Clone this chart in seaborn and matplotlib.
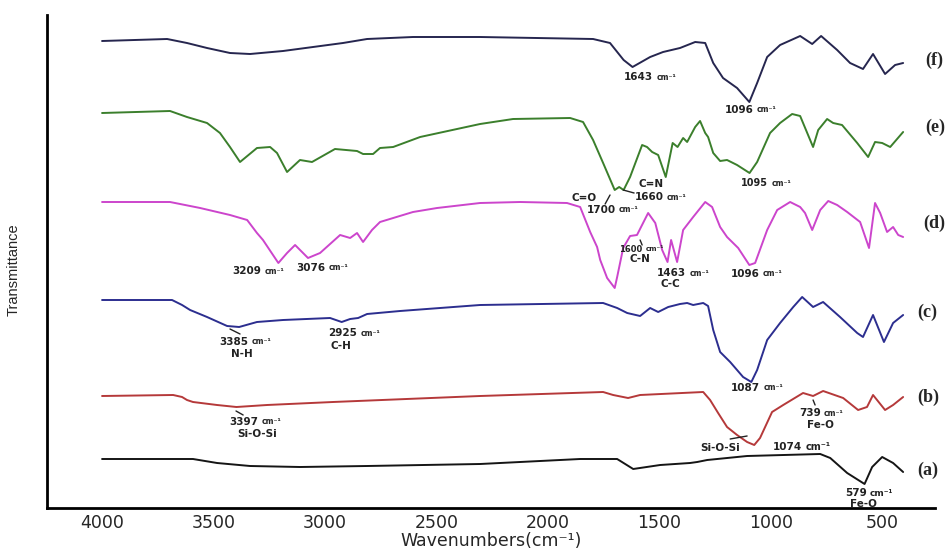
import matplotlib
matplotlib.use("Agg")
import matplotlib.pyplot as plt
import pandas as pd
import seaborn as sns

# FTIR spectra, stacked with vertical offsets (transmittance, arbitrary units)
wn_a = [4000, 3592, 3484, 3336, 3112, 2811, 2304, 1855, 1689, 1653, 1617, 1496,
        1362, 1330, 1285, 1106, 778, 733, 657, 579, 545, 500, 451, 406]
tr_a = [91, 91, 87, 84, 83, 84, 86, 91, 91, 86, 81, 85,
        87, 88, 90, 94, 96, 92, 77, 66, 83, 93, 87, 78]

wn_b = [4000, 3681, 3641, 3619, 3592, 3484, 3397, 3260, 2964, 2304, 1752, 1707,
        1640, 1586, 1303, 1272, 1236, 1196, 1151, 1106, 1074, 1048, 994, 944,
        855, 810, 765, 675, 608, 568, 541, 487, 451, 406]
tr_b = [154, 155, 153, 150, 148, 145, 143, 145, 148, 154, 158, 155,
        152, 155, 158, 150, 137, 123, 115, 108, 105, 112, 138, 145,
        157, 154, 159, 152, 140, 143, 155, 140, 145, 153]

wn_c = [4000, 3686, 3641, 3605, 3529, 3439, 3385, 3305, 3188, 2977, 2925, 2887,
        2851, 2811, 2663, 2304, 1752, 1689, 1644, 1586, 1541, 1505, 1460, 1407,
        1375, 1348, 1303, 1281, 1258, 1227, 1182, 1124, 1087, 1061, 1016, 958,
        899, 859, 810, 765, 689, 612, 586, 541, 492, 451, 406]
tr_c = [250, 250, 245, 240, 233, 224, 223, 228, 230, 232, 228, 231,
        232, 236, 239, 245, 247, 242, 237, 234, 242, 238, 243, 246,
        247, 245, 247, 244, 220, 198, 188, 173, 168, 180, 210, 227,
        243, 253, 243, 248, 233, 217, 213, 235, 208, 227, 235]

wn_d = [4000, 3695, 3560, 3426, 3349, 3305, 3278, 3209, 3170, 3134, 3076, 3022,
        2932, 2887, 2856, 2829, 2789, 2753, 2605, 2497, 2304, 2124, 1914, 1855,
        1810, 1779, 1765, 1734, 1700, 1689, 1662, 1631, 1600, 1550, 1518, 1487,
        1463, 1447, 1420, 1393, 1348, 1294, 1263, 1227, 1196, 1146, 1096, 1070,
        1016, 971, 913, 868, 846, 814, 778, 742, 702, 657, 599, 559, 532, 509,
        478, 451, 428, 406]
tr_d = [348, 348, 342, 335, 330, 317, 310, 287, 297, 305, 292, 297,
        315, 312, 317, 308, 320, 328, 338, 342, 347, 348, 347, 343,
        318, 303, 290, 272, 262, 273, 302, 314, 315, 337, 327, 300,
        288, 310, 288, 320, 333, 348, 343, 323, 313, 302, 285, 287,
        320, 340, 348, 343, 337, 320, 340, 349, 345, 338, 328, 302, 347, 337,
        318, 323, 315, 313]

wn_e = [4000, 3695, 3619, 3529, 3471, 3426, 3381, 3305, 3246, 3215, 3170, 3112,
        3058, 2955, 2856, 2829, 2784, 2753, 2694, 2573, 2304, 2156, 1900, 1842,
        1797, 1752, 1700, 1680, 1660, 1631, 1577, 1555, 1532, 1505, 1471, 1440,
        1418, 1393, 1375, 1339, 1317, 1294, 1281, 1258, 1227, 1196, 1151, 1095,
        1061, 1003, 958, 904, 868, 810, 787, 747, 720, 680, 612, 563, 532, 500,
        464, 406]
tr_e = [437, 439, 433, 427, 417, 403, 388, 402, 403, 397, 378, 390,
        388, 401, 399, 396, 396, 402, 403, 413, 426, 431, 432, 428,
        410, 387, 360, 363, 360, 373, 405, 403, 398, 395, 373, 407,
        403, 412, 408, 423, 429, 417, 413, 397, 389, 390, 385, 377,
        388, 417, 427, 436, 434, 403, 420, 431, 427, 425, 407, 393, 408, 407,
        403, 418]

wn_f = [4000, 3708, 3619, 3529, 3426, 3336, 3188, 2919, 2811, 2605, 2304, 1797,
        1721, 1660, 1620, 1541, 1483, 1407, 1339, 1294, 1258, 1214, 1151, 1096,
        1061, 1016, 958, 868, 814, 774, 702, 644, 586, 541, 487, 442, 406]
tr_f = [509, 511, 507, 502, 497, 496, 499, 507, 511, 513, 513, 511,
        507, 490, 483, 493, 498, 502, 508, 507, 487, 472, 462, 448,
        467, 493, 505, 514, 506, 514, 500, 487, 481, 496, 476, 485, 487]

samples = ["(a)", "(b)", "(c)", "(d)", "(e)", "(f)"]
series = [(wn_a, tr_a), (wn_b, tr_b), (wn_c, tr_c),
          (wn_d, tr_d), (wn_e, tr_e), (wn_f, tr_f)]
line_colors = ["#151515", "#b5393a", "#2c2e8f", "#cc45cc", "#3b7f2c", "#26264f"]

xticks = [4000, 3500, 3000, 2500, 2000, 1500, 1000, 500]

# peak labels: (anchor wavenumber, y, number, number size, unit size)
peak_labels = [
    (3278, 279, "3209", 7.5, 5.5), (2990, 282, "3076", 7.5, 5.5),
    (3336, 208, "3385", 7.5, 5.5), (2847, 217, "2925", 7.5, 5.5),
    (3291, 128, "3397", 7.5, 5.5),
    (1519, 473, "1643", 7.5, 5.5), (1070, 440, "1096", 7.5, 5.5),
    (1474, 353, "1660", 7.5, 5.5), (1689, 340, "1700", 7.5, 5.5),
    (1003, 367, "1095", 7.0, 5.5),
    (1568, 301, "1600", 6.0, 5.0), (1371, 277, "1463", 7.5, 5.5),
    (1043, 276, "1096", 7.5, 5.5),
    (1039, 162, "1087", 7.5, 5.5),
    (769, 137, "739", 7.5, 5.5), (850, 103, "1074", 7.5, 7.0),
    (563, 57, "579", 7.5, 6.5),
]
# band assignments: (center wavenumber, y, text)
band_labels = [
    (3372, 196, "N-H"), (2928, 204, "C-H"), (3305, 116, "Si-O-Si"),
    (1537, 366, "C=N"), (1837, 352, "C=O"), (1586, 291, "C-N"),
    (1451, 266, "C-C"), (778, 125, "Fe-O"), (1227, 102, "Si-O-Si"),
    (586, 46, "Fe-O"),
]
# short leader strokes pointing at bands
leaders = [
    ((3426, 221), (3381, 216)), ((3399, 139), (3367, 135)),
    ((1662, 360), (1613, 357)), ((1743, 346), (1721, 355)),
    ((1586, 310), (1577, 305)), ((810, 150), (801, 145)),
    ((1182, 111), (1106, 114)),
]
# sample tags on the right edge: (wavenumber, y)
tag_pos = [(343, 80), (343, 153), (343, 238), (316, 327), (307, 423), (307, 490)]

sns.set_style("white")
plt.rcParams["font.family"] = ["DejaVu Sans"]

fig = plt.figure(figsize=(9.49, 5.5), dpi=100)
ax = fig.add_axes([47 / 949, 42 / 550, 888 / 949, 493 / 550])

frames = [pd.DataFrame({"wavenumber": wn, "transmittance": tr, "sample": s})
          for s, (wn, tr) in zip(samples, series)]
df = pd.concat(frames, ignore_index=True)

sns.lineplot(data=df, x="wavenumber", y="transmittance", hue="sample",
             palette=dict(zip(samples, line_colors)), estimator=None,
             sort=False, legend=False, linewidth=1.4, ax=ax)
for ln in ax.get_lines():
    ln.set_solid_joinstyle("round")

ax.set_xlim(4247, 263)
ax.set_ylim(42, 535)
for side in ("top", "right"):
    ax.spines[side].set_visible(False)
for side in ("left", "bottom"):
    ax.spines[side].set_linewidth(2.0)
    ax.spines[side].set_color("black")
ax.set_yticks([])
ax.set_xticks(xticks)
ax.set_xticklabels([str(t) for t in xticks])
ax.tick_params(axis="x", length=0, labelsize=12.5, pad=4)

ax.set_xlabel("Wavenumbers(cm\u207b\u00b9)", fontsize=12.5, labelpad=0)
ax.set_ylabel("Transmittance", fontsize=10.5, family=["Liberation Sans"])
ax.yaxis.set_label_coords(-0.030, 0.483)

for wn, y, num, s1, s2 in peak_labels:
    ax.annotate(num, xy=(wn, y), xytext=(-1.2, 0), textcoords="offset points",
                ha="right", va="center", fontsize=s1, fontweight="bold",
                color="#222222")
    ax.annotate("cm\u207b\u00b9", xy=(wn, y), xytext=(1.2, 0),
                textcoords="offset points", ha="left", va="center",
                fontsize=s2, fontweight="bold", color="#222222")

for wn, y, txt in band_labels:
    ax.text(wn, y, txt, ha="center", va="center", fontsize=7.5,
            fontweight="bold", color="#222222")

for p0, p1 in leaders:
    ax.annotate("", xy=p1, xytext=p0,
                arrowprops=dict(arrowstyle="-", lw=1.0, color="#222222",
                                shrinkA=0, shrinkB=0))

for (wn, y), s in zip(tag_pos, samples):
    ax.text(wn, y, s, ha="left", va="center", fontsize=13, fontweight="bold",
            family=["Liberation Serif"], clip_on=False)

fig.savefig("out.png", dpi=100)
